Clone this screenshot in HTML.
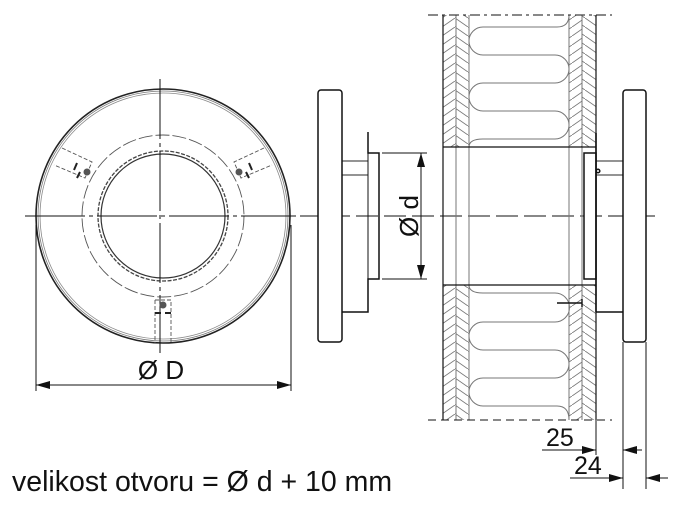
<!DOCTYPE html>
<html><head><meta charset="utf-8"><style>
html,body{margin:0;padding:0;background:#fff;}
svg{display:block;}
text{font-family:"Liberation Sans",Arial,sans-serif;fill:#111;}
</style></head><body>
<svg width="690" height="509" viewBox="0 0 690 509" xmlns="http://www.w3.org/2000/svg">
<defs>
<pattern id="hl" width="13" height="9" patternUnits="userSpaceOnUse">
<line x1="0" y1="9" x2="13" y2="0" stroke="#777" stroke-width="0.9"/>
</pattern>
<pattern id="hr" width="13" height="9" patternUnits="userSpaceOnUse">
<line x1="0" y1="0" x2="13" y2="9" stroke="#777" stroke-width="0.9"/>
</pattern>
<marker id="ar" markerWidth="14" markerHeight="8" refX="14" refY="4" orient="auto" markerUnits="userSpaceOnUse">
<path d="M0,0 L14,4 L0,8 Z" fill="#111"/>
</marker>
</defs>

<g fill="none" stroke="#222">
<circle cx="163" cy="216" r="127" stroke-width="1.6"/>
<circle cx="163" cy="216" r="125" stroke="#777" stroke-width="0.8"/>
<circle cx="163" cy="216" r="123" stroke="#888" stroke-width="0.8"/>
<circle cx="163" cy="216" r="81" stroke="#555" stroke-width="0.9" stroke-dasharray="14 3"/>
<circle cx="163" cy="216" r="65" stroke="#444" stroke-width="1.3" stroke-dasharray="4 1.5"/>
<circle cx="163" cy="216" r="62" stroke="#333" stroke-width="1.2"/>
<line x1="25" y1="216" x2="296" y2="216" stroke="#111" stroke-width="1" stroke-dasharray="60 4 4 4"/>
<line x1="160" y1="79" x2="160" y2="353" stroke="#111" stroke-width="1" stroke-dasharray="60 4 4 4"/>
<g stroke="#555" stroke-width="0.9" stroke-dasharray="4 2">
<path d="M62,148 L92,162 L85,178 L54,165"/>
<path d="M264,148 L234,162 L241,178 L272,165"/>
<path d="M155,300 L171,300 L171,343 M155,300 L155,343"/>
</g>
<path d="M77,163 L74,170 M80,172 L77,178" stroke="#222" stroke-width="2"/>
<path d="M249,163 L252,170 M246,172 L249,178" stroke="#222" stroke-width="2"/>
<path d="M155,313 L161,313 M165,313 L171,313" stroke="#222" stroke-width="2"/>
</g>
<circle cx="87" cy="172" r="3.5" fill="#555"/>
<circle cx="239" cy="172" r="3.5" fill="#555"/>
<circle cx="163" cy="305" r="3.5" fill="#555"/>
<g stroke="#111" stroke-width="1" fill="none">
<line x1="36" y1="225" x2="36" y2="391"/>
<line x1="291" y1="225" x2="291" y2="391"/>
<line x1="36" y1="385" x2="291" y2="385" marker-end="url(#ar)"/>
<line x1="291" y1="385" x2="36" y2="385" marker-end="url(#ar)"/>
</g>
<text x="161" y="379" font-size="26" text-anchor="middle">Ø D</text>

<line x1="300" y1="216" x2="655" y2="216" stroke="#111" stroke-width="1" stroke-dasharray="22 6"/>

<g stroke="#111" stroke-width="1.5" fill="none">
<rect x="318" y="90" width="24" height="252" rx="3" fill="#fff"/>
<path d="M368,132 L368,153 L379,153 L379,279 L368,279 L368,312 L342,312"/>
<line x1="368" y1="153" x2="368" y2="279" stroke-width="1"/>
<rect x="342" y="161" width="26" height="14" stroke-width="0.9"/>
</g>
<g stroke="#111" stroke-width="1" fill="none">
<line x1="382" y1="153" x2="427" y2="153"/>
<line x1="382" y1="279" x2="427" y2="279"/>
<line x1="421" y1="216" x2="421" y2="153" marker-end="url(#ar)"/>
<line x1="421" y1="216" x2="421" y2="279" marker-end="url(#ar)"/>
</g>
<text transform="translate(418,216) rotate(-90)" font-size="26" text-anchor="middle">Ø d</text>

<rect x="443" y="15" width="13" height="132" fill="url(#hl)"/>
<rect x="456" y="15" width="13" height="132" fill="url(#hr)"/>
<rect x="569" y="15" width="13" height="132" fill="url(#hl)"/>
<rect x="582" y="15" width="14" height="132" fill="url(#hr)"/>
<rect x="443" y="285" width="13" height="135" fill="url(#hl)"/>
<rect x="456" y="285" width="13" height="135" fill="url(#hr)"/>
<rect x="569" y="285" width="13" height="135" fill="url(#hl)"/>
<rect x="582" y="285" width="14" height="135" fill="url(#hr)"/>
<g stroke="#777" stroke-width="1" fill="none">
<path d="M569,15 Q569,27 557,27 L483,27 A14,14 0 0 0 483,55 L555,55 A14,14 0 0 1 555,83 L483,83 A14,14 0 0 0 483,111 L555,111 A14,14 0 0 1 555,139 L483,139 Q469,139 469,147"/>
<path d="M469,285 Q469,293 483,293 L555,293 A14.5,14.5 0 0 1 555,322 L483,322 A14,14 0 0 0 483,350 L555,350 A14,14 0 0 1 555,378 L483,378 A14,14 0 0 0 483,406 L557,406 Q569,406 569,420"/>
<line x1="456" y1="15" x2="456" y2="420"/>
<line x1="469" y1="15" x2="469" y2="420"/>
<line x1="569" y1="15" x2="569" y2="420"/>
<line x1="582" y1="15" x2="582" y2="420"/>
</g>
<g stroke="#111" stroke-width="1.2" fill="none">
<line x1="443" y1="15" x2="443" y2="420"/>
<line x1="596" y1="15" x2="596" y2="420"/>
<line x1="443" y1="147" x2="596" y2="147"/>
<line x1="443" y1="285" x2="596" y2="285"/>
<line x1="428" y1="15" x2="612" y2="15" stroke-width="0.9" stroke-dasharray="10 4 3 4"/>
<line x1="428" y1="420" x2="612" y2="420" stroke-width="0.9" stroke-dasharray="8 5"/>
</g>
<path d="M557,303 L582,303 M582,299 L582,307" stroke="#111" stroke-width="1.4"/>

<g stroke="#111" stroke-width="1.5" fill="none">
<rect x="584" y="153" width="12" height="126" fill="#fff"/>
<line x1="596" y1="133" x2="596" y2="312" stroke-width="1.6"/>
<path d="M596,312 L623,312"/>
<rect x="623" y="90" width="23" height="252" rx="3" fill="#fff"/>
<rect x="596" y="161" width="27" height="14" stroke-width="0.9"/>
<circle cx="598" cy="171" r="1.8"/>
</g>
<g stroke="#111" stroke-width="1" fill="none">
<line x1="596" y1="420" x2="596" y2="455"/>
<line x1="623" y1="342" x2="623" y2="489"/>
<line x1="646" y1="342" x2="646" y2="489"/>
<line x1="542" y1="450" x2="596" y2="450" marker-end="url(#ar)"/>
<line x1="642" y1="450" x2="623" y2="450" marker-end="url(#ar)"/>
<line x1="570" y1="478" x2="623" y2="478" marker-end="url(#ar)"/>
<line x1="668" y1="478" x2="646" y2="478" marker-end="url(#ar)"/>
</g>
<text x="546" y="446" font-size="25">25</text>
<text x="574" y="474" font-size="25">24</text>

<text x="12" y="491" font-size="28.5">velikost otvoru = Ø d + 10 mm</text>
</svg>
</body></html>
